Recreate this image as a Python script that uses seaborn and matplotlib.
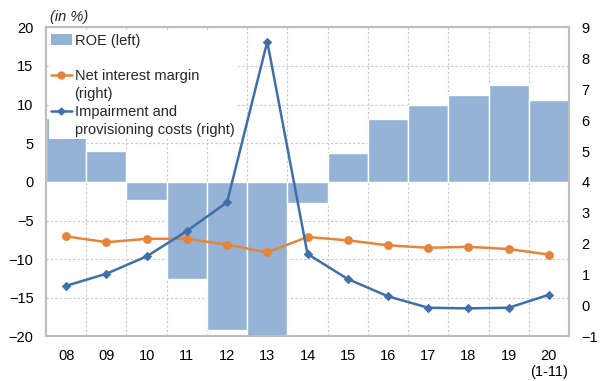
import numpy as np
import pandas as pd
import matplotlib
matplotlib.use("Agg")
import matplotlib.pyplot as plt
import seaborn as sns
from matplotlib.patches import Patch
from matplotlib.lines import Line2D

# Annual banking indicators, 2008 to 2020 (Jan-Nov)
years = ["08", "09", "10", "11", "12", "13", "14", "15", "16", "17", "18", "19", "20\n(1-11)"]
roe = [8.3, 4.0, -2.3, -12.6, -19.1, -21.0, -2.7, 3.8, 8.2, 9.9, 11.3, 12.5, 10.6]
nim = [2.24, 2.05, 2.16, 2.16, 1.97, 1.72, 2.22, 2.11, 1.95, 1.87, 1.90, 1.83, 1.65]
impairment = [0.64, 1.03, 1.59, 2.41, 3.34, 8.54, 1.67, 0.86, 0.30, -0.07, -0.09, -0.07, 0.35]

BAR = "#95b3d7"
ORANGE = "#e6843a"
BLUE = "#3f6fab"
GRID = "#c8c8c8"
SPINE = "#bfbfbf"
FS = 10.5

sns.set_style("white")
plt.rcParams["font.family"] = ["Liberation Sans", "DejaVu Sans"]

df = pd.DataFrame({"year": years, "roe": roe, "nim": nim, "impairment": impairment})

fig = plt.figure(figsize=(6, 3.81), dpi=100)
ax = fig.add_axes([0.0767, 0.1168, 0.8716, 0.8114])

sns.barplot(data=df, x="year", y="roe", order=years, color=BAR, saturation=1,
            width=1.0, edgecolor="white", linewidth=1, errorbar=None, ax=ax)

ax2 = ax.twinx()
sns.pointplot(data=df, x="year", y="nim", order=years, color=ORANGE, markers="o",
              markersize=5, linewidth=1.8, errorbar=None, ax=ax2)
sns.pointplot(data=df, x="year", y="impairment", order=years, color=BLUE, markers="D",
              markersize=3.5, linewidth=1.8, errorbar=None, ax=ax2)

# Axes limits and ticks
ax.set_ylim(-20, 20)
ax.set_yticks(np.arange(-20, 21, 5))
ax2.set_ylim(-1, 9)
ax2.set_yticks(np.arange(-1, 10, 1))
ax.set_xlim(-0.5, len(years) - 0.5)
ax.set_xticks(np.arange(0.5, len(years) - 1, 1), minor=True)

for a in (ax, ax2):
    a.set_xlabel("")
    a.set_ylabel("")
    a.tick_params(axis="both", which="both", length=0, labelsize=FS, pad=9, colors="black")
    for s in a.spines.values():
        s.set_color(SPINE)
        s.set_linewidth(1.5)

# Dotted grid: horizontal at left ticks, vertical between categories
ax.set_axisbelow(True)
ax.yaxis.grid(True, which="major", linestyle=(0, (2, 2)), color=GRID, linewidth=0.8)
ax.xaxis.grid(True, which="minor", linestyle=(0, (2, 2)), color=GRID, linewidth=0.8)
ax.xaxis.grid(False, which="major")
ax2.grid(False)

# Legend
blank = Line2D([], [], linestyle="none")
handles = [
    Patch(facecolor=BAR, edgecolor="none"),
    blank,
    Line2D([], [], color=ORANGE, marker="o", markersize=5, linewidth=1.8),
    blank,
    Line2D([], [], color=BLUE, marker="D", markersize=3.5, linewidth=1.8),
    blank,
]
labels = ["ROE (left)", "", "Net interest margin", "(right)",
          "Impairment and", "provisioning costs (right)"]
leg = ax2.legend(handles, labels, loc="upper left", bbox_to_anchor=(0.0057, 0.987),
                 borderaxespad=0.0, frameon=True, fancybox=False, framealpha=1,
                 edgecolor="white", fontsize=FS, handlelength=1.4,
                 handletextpad=0.2, labelspacing=0.27, borderpad=0.15)
leg.get_frame().set_linewidth(0)

fig.text(50 / 600, 1 - 17 / 381, "(in %)", style="italic", fontsize=FS,
         ha="left", va="center")

fig.savefig("out.png", dpi=100)
